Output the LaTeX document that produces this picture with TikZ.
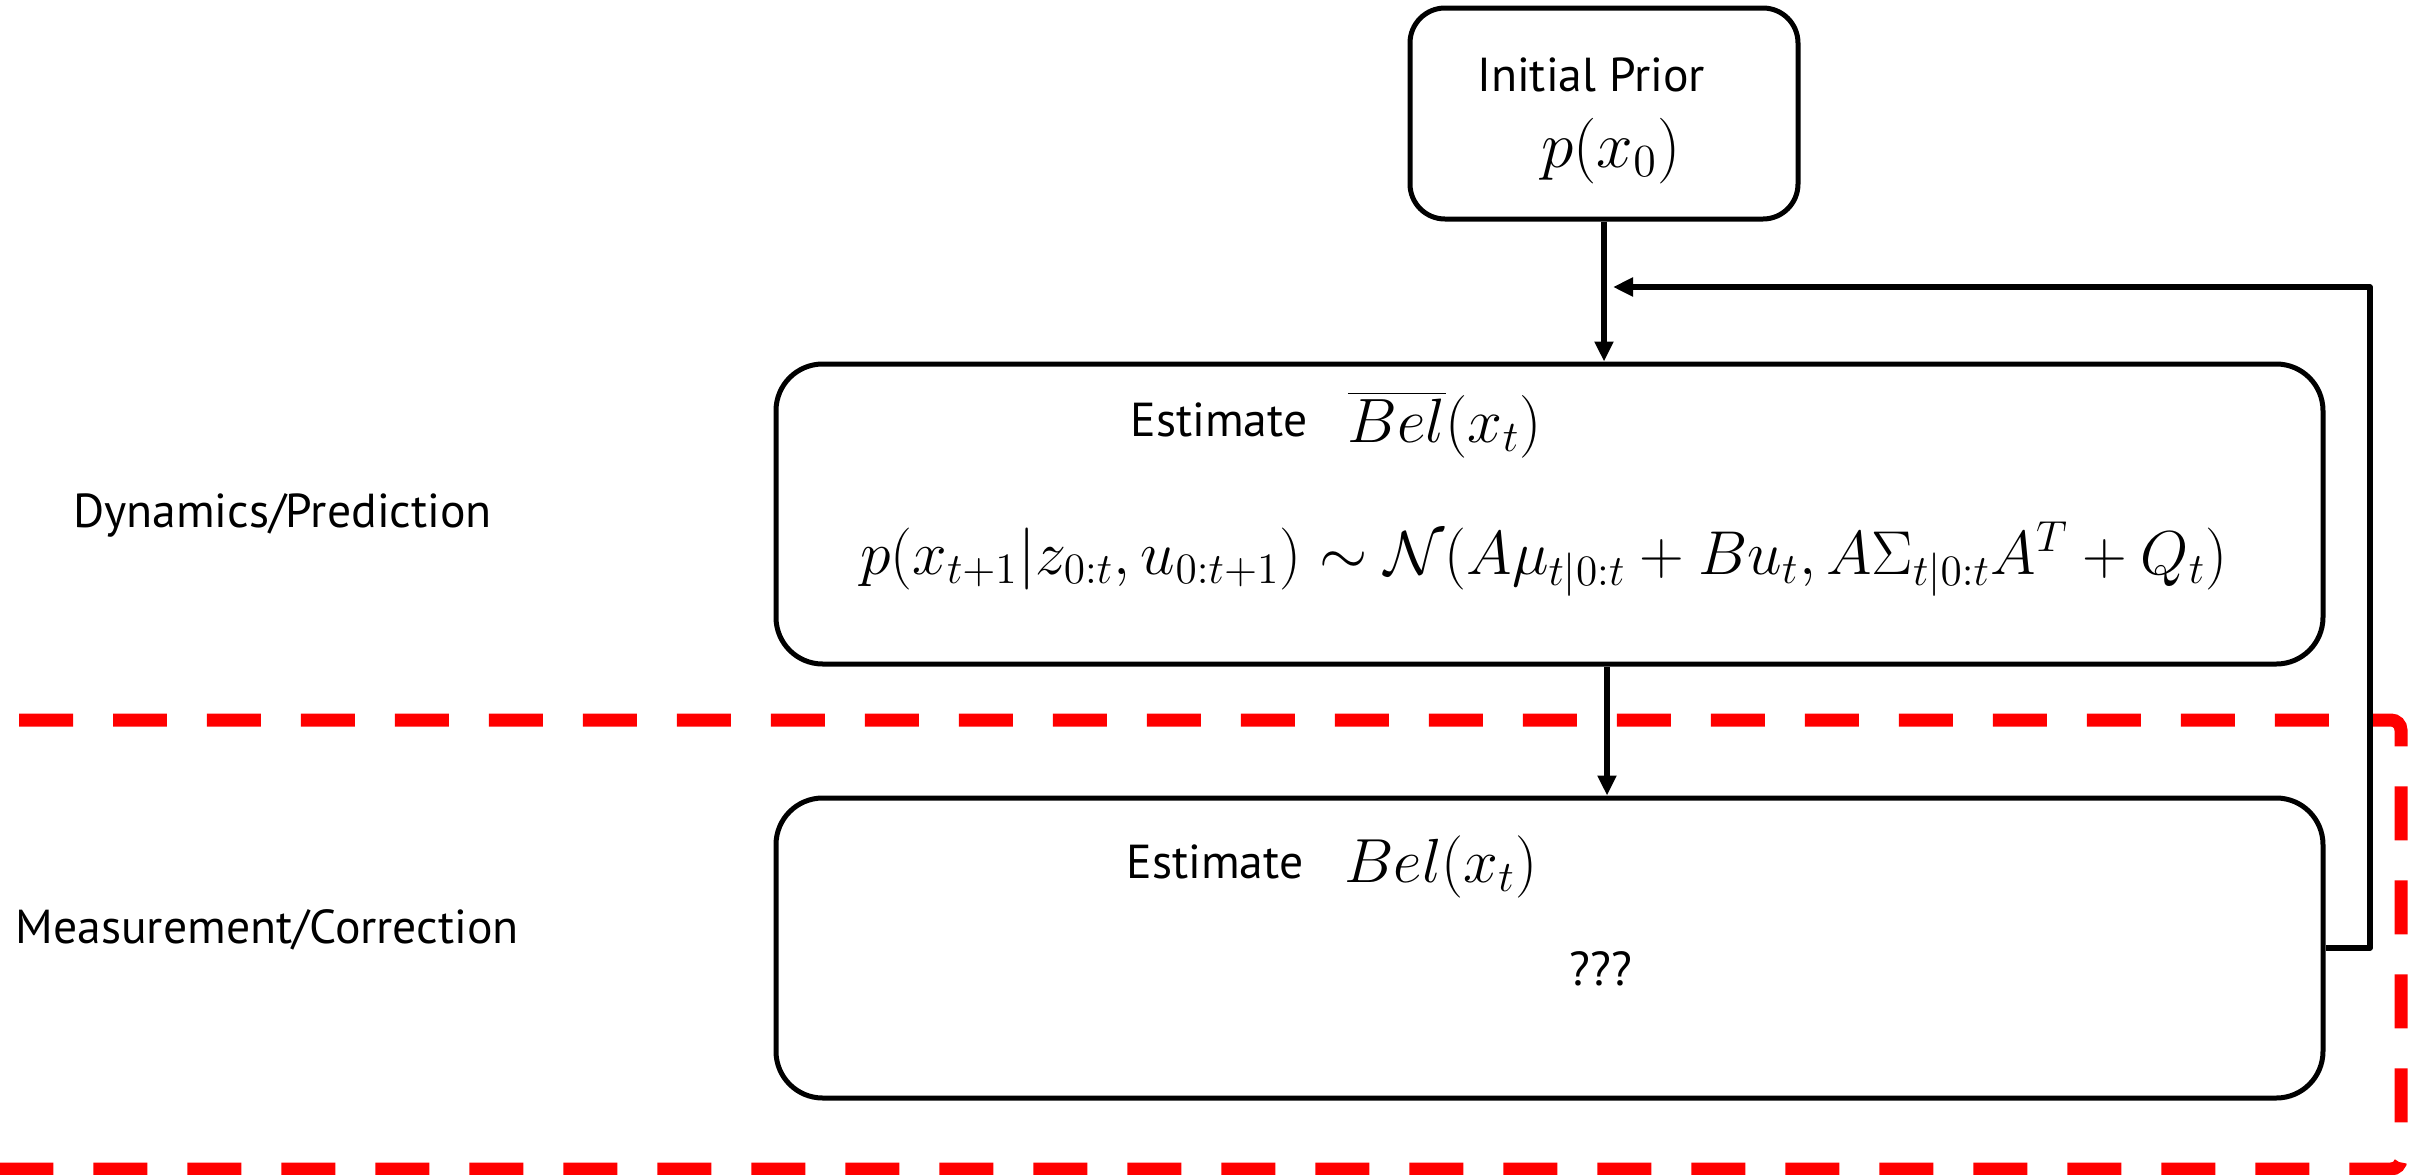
\RequirePackage{fix-cm}
\documentclass[tikz,border=0pt]{standalone}
\usepackage{fontspec}
\setsansfont{PT Sans}
\usetikzlibrary{arrows.meta}
\begin{document}
\begin{tikzpicture}[x=0.3pt,y=-0.3pt,
  bigbox/.style={draw, line width=1.5pt, rounded corners=14pt, minimum width=464.1pt, minimum height=90pt, inner sep=0pt},
  priorbox/.style={draw, line width=1.5pt, rounded corners=10.5pt, minimum width=116.4pt, minimum height=63.3pt, inner sep=0pt},
  conn/.style={line width=1.7pt, -{Triangle[length=6pt,width=5.4pt]}},
  lbl/.style={font=\sffamily\fontsize{14.3}{16}\selectfont, inner sep=0pt, anchor=base},
  mth/.style={inner sep=0pt, anchor=base},
  region/.style={draw=red, line width=3.9pt, dash pattern=on 16.2pt off 12pt, rounded corners=3pt}
]
\useasboundingbox (0,0) rectangle (2409,1174);
% region boundary
\draw[region] (19,720) -- (2401,720) -- (2401,1169) -- (-20,1169);
% boxes
\node[priorbox] (prior) at (1604,113.5) {};
\node[bigbox] (pred) at (1549.5,514) {};
\node[bigbox] (corr) at (1549.5,948) {};
% texts
\node[lbl] (tprior) at (1591,91) {Initial Prior};
\node[mth, font=\fontsize{19.7}{22}\selectfont] (px0) at (1611,167) {$p(x_0)$};
\node[lbl] (est1) at (1219,436) {Estimate};
\node[mth, font=\fontsize{18.8}{21}\selectfont] (bel1) at (1445,442) {$\overline{Bel}(x_t)$};
\node[mth, font=\fontsize{18.6}{21}\selectfont] (dyn) at (1544,574) {$p(x_{t+1}|z_{0:t},u_{0:t+1})\sim\mathcal{N}(A\mu_{t|0:t}+Bu_t,A\Sigma_{t|0:t}A^T+Q_t)$};
\node[lbl] (est2) at (1215,878) {Estimate};
\node[mth, font=\fontsize{18.7}{21}\selectfont] (bel2) at (1441,882) {$Bel(x_t)$};
\node[lbl] (qq) at (1601,985) {???};
\node[lbl, anchor=base west] (ldyn) at (73,527) {Dynamics/Prediction};
\node[lbl, anchor=base west] (lmeas) at (15,943) {Measurement/Correction};
% connectors
\coordinate (m1) at (1607,0);
\draw[conn] (prior.south) -- (prior.south |- pred.north);
\draw[conn] (m1 |- pred.south) -- (m1 |- corr.north);
\coordinate (fb1) at (2370,948);
\coordinate (fb2) at (2370,287);
\coordinate (fb3) at (1613,287);
\draw[conn, line join=round] (corr.east) -- (fb1) -- (fb2) -- (fb3);
\end{tikzpicture}
\end{document}
